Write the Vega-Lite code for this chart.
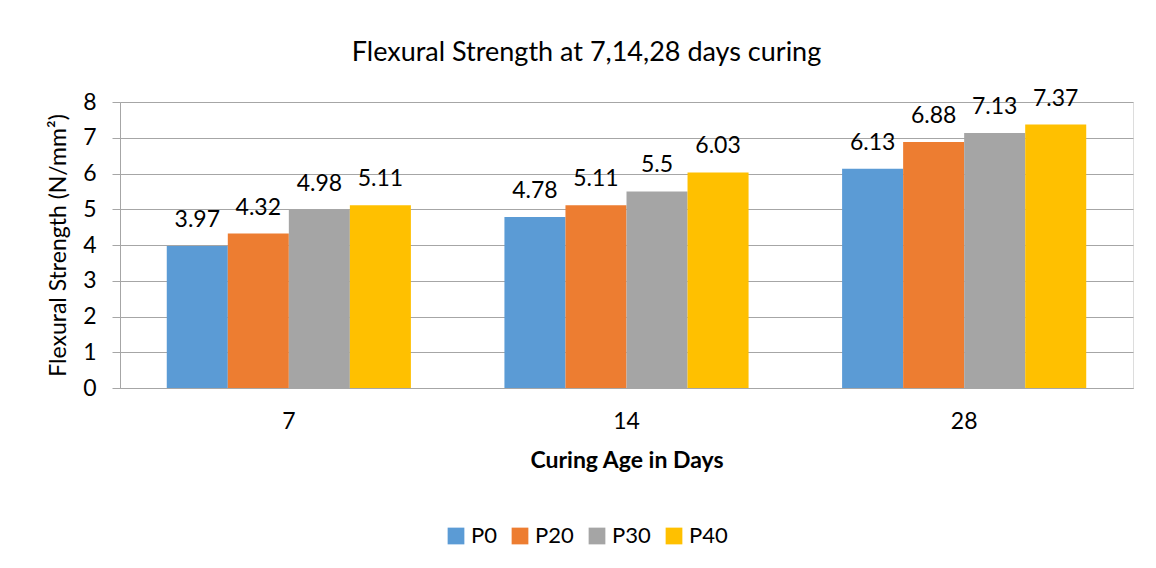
{
  "$schema": "https://vega.github.io/schema/vega-lite/v6.json",
  "width": 1013,
  "height": 286,
  "autosize": {"type": "none"},
  "padding": {"left": 120, "top": 102, "right": 23, "bottom": 180},
  "background": "white",
  "title": {
    "text": "Flexural Strength at 7,14,28 days curing",
    "fontSize": 27,
    "font": "Lato",
    "fontWeight": "normal",
    "color": "#000000",
    "anchor": "middle",
    "dx": -40,
    "offset": 21
  },
  "data": {
    "values": [
      {"age": "7", "mix": "P0", "value": 3.97},
      {"age": "7", "mix": "P20", "value": 4.32},
      {"age": "7", "mix": "P30", "value": 4.98},
      {"age": "7", "mix": "P40", "value": 5.11},
      {"age": "14", "mix": "P0", "value": 4.78},
      {"age": "14", "mix": "P20", "value": 5.11},
      {"age": "14", "mix": "P30", "value": 5.5},
      {"age": "14", "mix": "P40", "value": 6.03},
      {"age": "28", "mix": "P0", "value": 6.13},
      {"age": "28", "mix": "P20", "value": 6.88},
      {"age": "28", "mix": "P30", "value": 7.13},
      {"age": "28", "mix": "P40", "value": 7.37}
    ]
  },
  "encoding": {
    "x": {
      "field": "age",
      "type": "nominal",
      "sort": ["7", "14", "28"],
      "scale": {"paddingInner": 0.277, "paddingOuter": 0.1385},
      "axis": {
        "title": "Curing Age in Days",
        "titleFontWeight": "bold",
        "titleFontSize": 23,
        "titleFont": "Lato",
        "titleColor": "#000000",
        "titlePadding": 16,
        "labelAngle": 0,
        "labelFontSize": 23,
        "labelFont": "Lato",
        "labelColor": "#000000",
        "labelPadding": 22,
        "ticks": false,
        "domainColor": "#A6A6A6",
        "domainWidth": 1,
        "grid": false
      }
    },
    "xOffset": {"field": "mix", "type": "nominal", "sort": ["P0", "P20", "P30", "P40"], "scale": {"paddingInner": 0, "paddingOuter": 0}},
    "y": {
      "field": "value",
      "type": "quantitative",
      "scale": {"domain": [0, 8], "nice": false},
      "axis": {
        "title": "Flexural Strength (N/mm²)",
        "titleFontWeight": "normal",
        "titleFontSize": 23,
        "titleFont": "Lato",
        "titleColor": "#000000",
        "titlePadding": 12,
        "values": [0, 1, 2, 3, 4, 5, 6, 7, 8],
        "labelFontSize": 23,
        "labelFont": "Lato",
        "labelColor": "#000000",
        "labelPadding": 16,
        "tickSize": 8,
        "tickColor": "#A6A6A6",
        "domainColor": "#A6A6A6",
        "gridColor": "#A6A6A6",
        "grid": true
      }
    }
  },
  "layer": [
    {
      "mark": {"type": "bar"},
      "encoding": {
        "color": {
          "field": "mix",
          "type": "nominal",
          "sort": ["P0", "P20", "P30", "P40"],
          "scale": {"domain": ["P0", "P20", "P30", "P40"], "range": ["#5B9BD5", "#ED7D31", "#A5A5A5", "#FFC000"]},
          "legend": {
            "title": null,
            "orient": "none",
            "direction": "horizontal",
            "legendX": 325,
            "legendY": 423,
            "symbolType": "square",
            "symbolSize": 280,
            "symbolStrokeWidth": 0,
            "symbolOpacity": 1,
            "labelFontSize": 22,
            "labelFont": "Lato",
            "labelColor": "#000000",
            "labelOffset": 4,
            "columnPadding": 12
          }
        }
      }
    },
    {
      "mark": {"type": "text", "baseline": "alphabetic", "dy": -19, "fontSize": 23, "font": "Lato", "color": "#000000"},
      "encoding": {
        "text": {"field": "value", "type": "quantitative"}
      }
    }
  ]
}
